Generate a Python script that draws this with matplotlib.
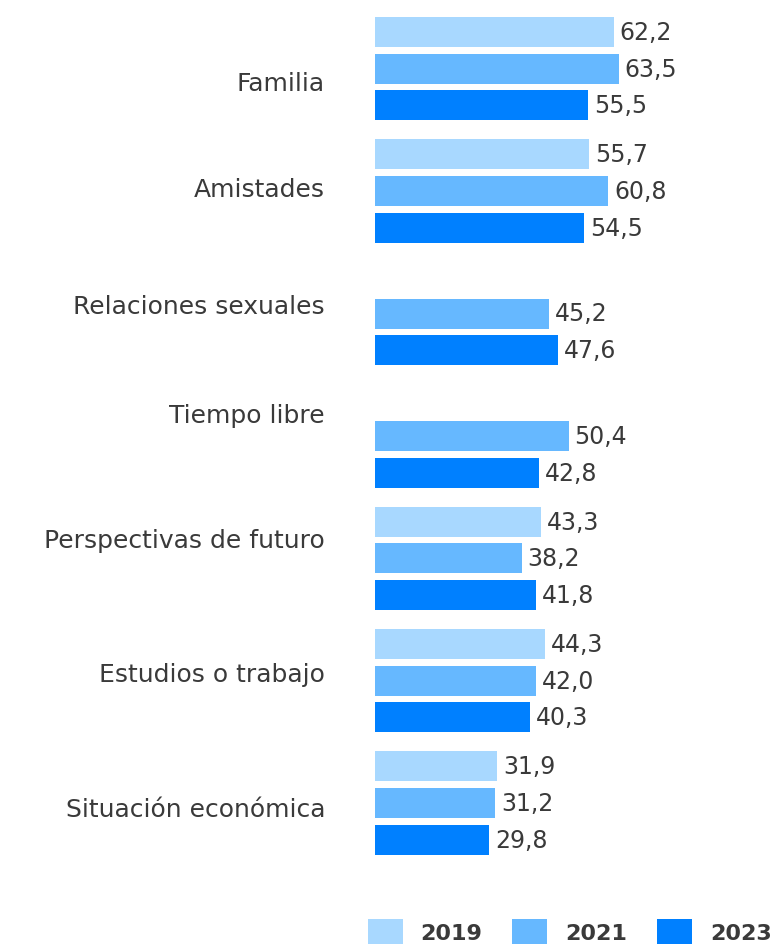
import numpy as np
import matplotlib.pyplot as plt
from matplotlib.patches import Patch

categorias = ['Familia', 'Amistades', 'Relaciones sexuales', 'Tiempo libre',
              'Perspectivas de futuro', 'Estudios o trabajo', 'Situación económica']
anios = ['2019', '2021', '2023']
v2019 = [62.2, 55.7, np.nan, np.nan, 43.3, 44.3, 31.9]
v2021 = [63.5, 60.8, 45.2, 50.4, 38.2, 42.0, 31.2]
v2023 = [55.5, 54.5, 47.6, 42.8, 41.8, 40.3, 29.8]

colores = ['#A8D8FF', '#66B8FF', '#0080FF']
gris = '#3a3a3a'

plt.rcParams['font.family'] = ['DejaVu Sans']

W, H = 774, 945
fig = plt.figure(figsize=(W / 100, H / 100), dpi=100)
ax = fig.add_axes([0, 0, 1, 1])

# escala horizontal: px por punto porcentual, origen de las barras en x0
px = 3.84
x0 = 375
ax.set_xlim(-x0 / px, (W - x0) / px)
ax.set_ylim(H, 0)
ax.axis('off')

top = 33          # centro de la primera barra
paso_grupo = 122.4
paso_barra = 36.7
alto = 30
# desplazamiento vertical de cada etiqueta de categoria respecto a la barra central
desp_etq = [14, -2, -8, -21, -18, -7, 6]

for k, serie in enumerate([v2019, v2021, v2023]):
    y = [top + g * paso_grupo + k * paso_barra for g in range(len(categorias))]
    ax.barh(y, serie, height=alto, color=colores[k], left=0)
    for yi, v in zip(y, serie):
        if np.isnan(v):
            continue
        ax.text(v + 6 / px, yi, f'{v:.1f}'.replace('.', ','), va='center', ha='left',
                fontsize=17, color=gris)

for g, cat in enumerate(categorias):
    yc = top + g * paso_grupo + paso_barra + desp_etq[g]
    ax.text(-(x0 - 325) / px, yc, cat, ha='right', va='center', fontsize=18,
            color=gris)

fs_leg = 16
handles = [Patch(facecolor=c, edgecolor='none', label=a) for c, a in zip(colores, anios)]
leg = fig.legend(handles=handles, ncol=3, loc='lower right', bbox_to_anchor=(0.997, 0.0),
                 frameon=False, fontsize=fs_leg, handlelength=1.58, handleheight=1.35,
                 handletextpad=0.8, columnspacing=1.35, borderaxespad=0.0, borderpad=0.0)
for t in leg.get_texts():
    t.set_fontweight('bold')
    t.set_color(gris)

fig.savefig('out.png', dpi=100)
